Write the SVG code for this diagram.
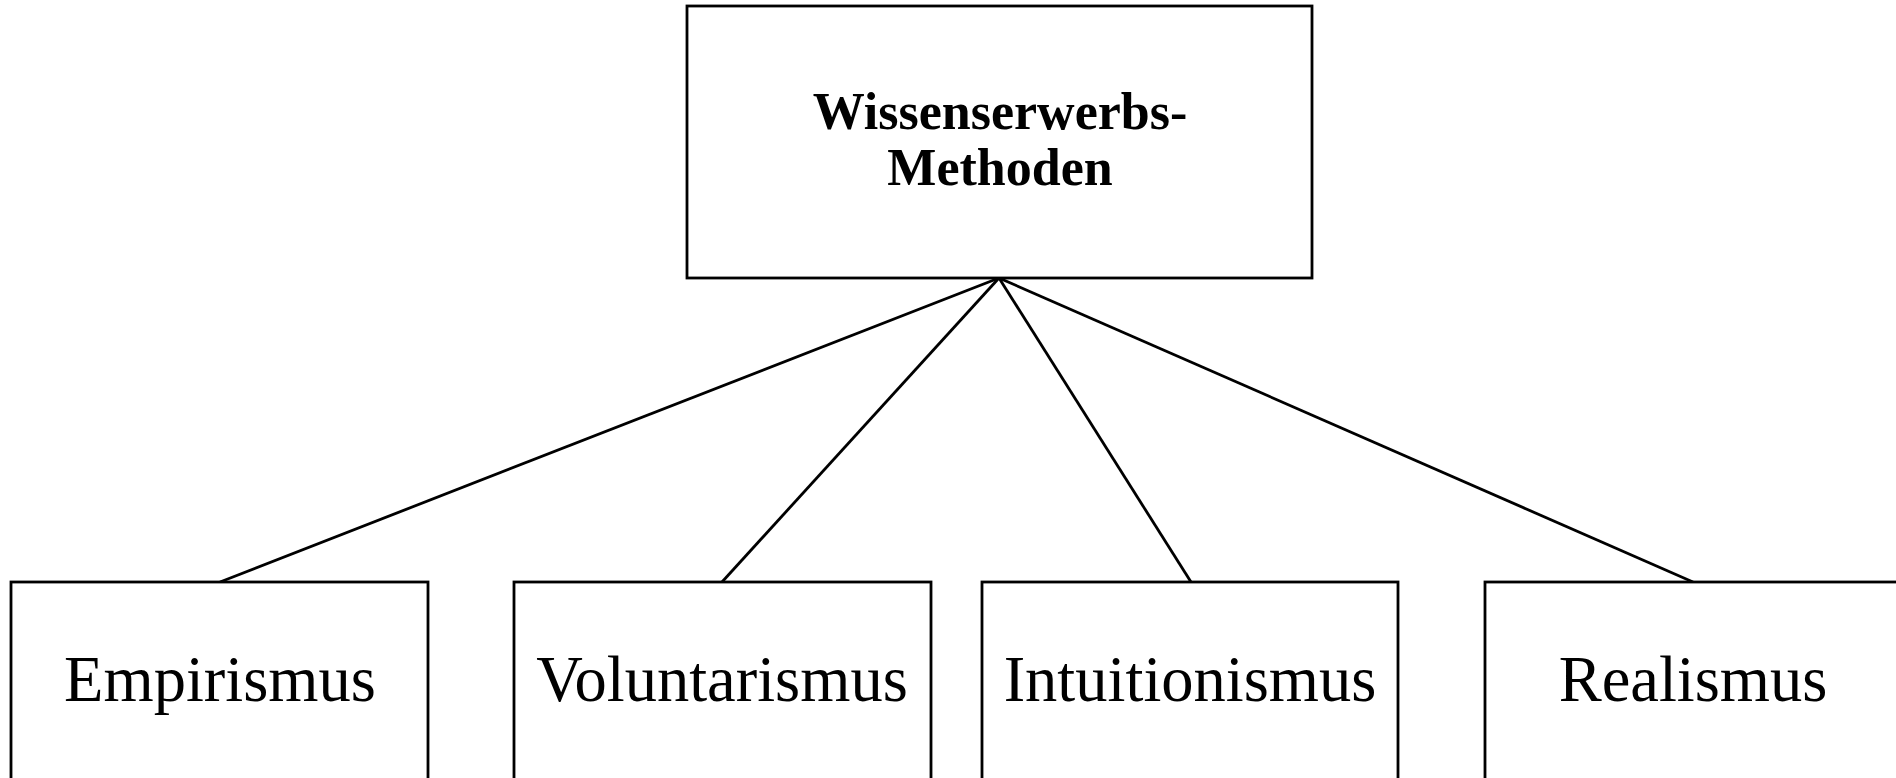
<svg xmlns="http://www.w3.org/2000/svg" width="1896" height="778" viewBox="0 0 1896 778">
  <style>
    .box { fill: #ffffff; stroke: #000000; stroke-width: 2.8; }
    .edge { stroke: #000000; stroke-width: 2.8; fill: none; }
    .title { font-family: "Liberation Serif", "Times New Roman", serif; font-weight: bold; font-size: 52px; text-anchor: middle; fill: #000; }
    .label { font-family: "Liberation Serif", "Times New Roman", serif; font-size: 64.5px; text-anchor: middle; fill: #000; }
  </style>
  <rect width="1896" height="778" fill="#ffffff"/>

  <!-- connectors from the root to each method -->
  <g id="connectors">
    <line class="edge" x1="999" y1="278" x2="220" y2="582"/>
    <line class="edge" x1="999" y1="278" x2="722" y2="582"/>
    <line class="edge" x1="999" y1="278" x2="1191" y2="582"/>
    <line class="edge" x1="999" y1="278" x2="1693" y2="582"/>
  </g>

  <g id="root">
    <rect class="box" x="687" y="6" width="625" height="272"/>
    <text class="title" x="1000" y="129">Wissenserwerbs-</text>
    <text class="title" x="1000" y="185">Methoden</text>
  </g>

  <g id="empirismus">
    <rect class="box" x="11" y="582" width="417" height="240"/>
    <text class="label" x="220" y="701">Empirismus</text>
  </g>

  <g id="voluntarismus">
    <rect class="box" x="514" y="582" width="417" height="240"/>
    <text class="label" x="722" y="701">Voluntarismus</text>
  </g>

  <g id="intuitionismus">
    <rect class="box" x="982" y="582" width="416" height="240"/>
    <text class="label" x="1190" y="701">Intuitionismus</text>
  </g>

  <g id="realismus">
    <rect class="box" x="1485" y="582" width="417" height="240"/>
    <text class="label" x="1693" y="701">Realismus</text>
  </g>
</svg>
